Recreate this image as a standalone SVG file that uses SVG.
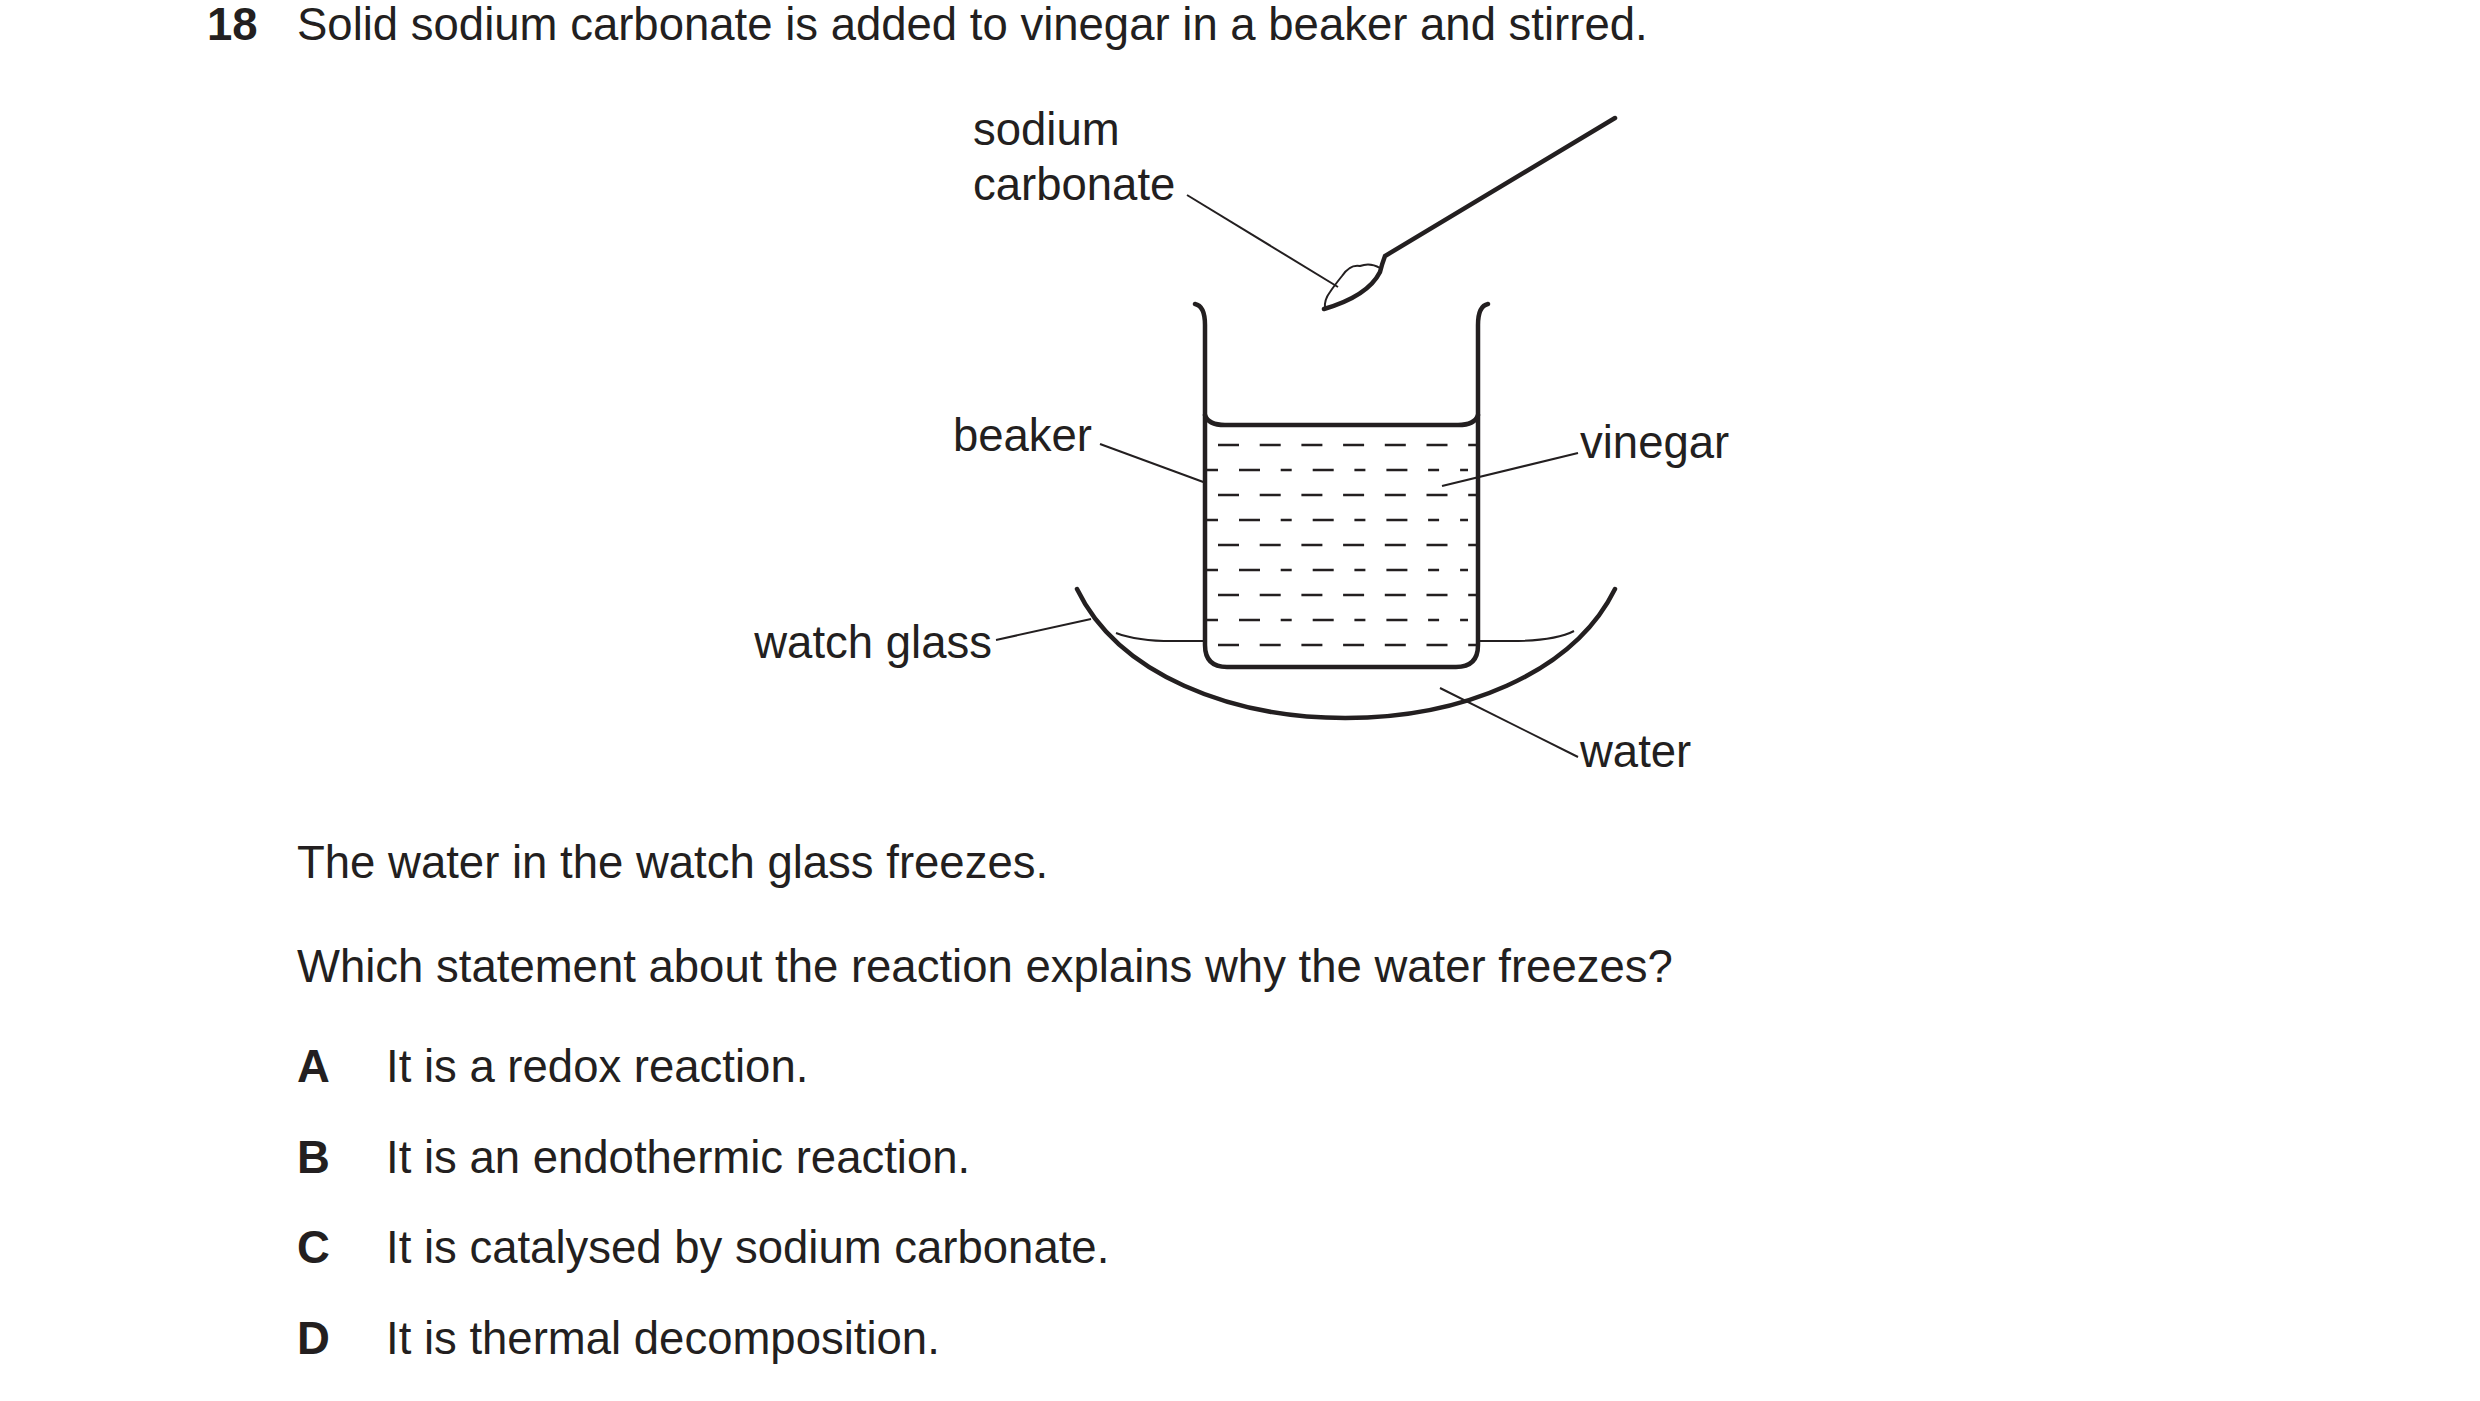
<svg xmlns="http://www.w3.org/2000/svg" width="2480" height="1401" viewBox="0 0 2480 1401">
<style>
text{font-family:"Liberation Sans",Arial,sans-serif;font-size:45.5px;fill:#231f20}
.b{font-weight:bold}
.thick{fill:none;stroke:#231f20;stroke-width:4.5;stroke-linecap:round}
.thin{fill:none;stroke:#231f20;stroke-width:2}
.dash{stroke:#231f20;stroke-width:2.5}
</style>
<rect width="2480" height="1401" fill="#fff"/>
<text class="b" x="207" y="40">18</text>
<text x="297" y="40">Solid sodium carbonate is added to vinegar in a beaker and stirred.</text>
<g id="beaker">
<path class="thick" d="M1195,304 Q1205,306 1205,325 L1205,645 Q1205,667 1227,667 L1456,667 Q1478,667 1478,645 L1478,325 Q1478,306 1488,304"/>
<path class="thick" d="M1205,415 Q1208,425 1225,425 L1458,425 Q1475,425 1478,415"/>
</g>
<g id="vinegar">
<path class="dash" stroke-dasharray="21 20.7" d="M1218,445H1478M1218,495H1478M1218,545H1478M1218,595H1478M1218,645H1478"/>
<path class="dash" stroke-dasharray="11 21 21 20.7" d="M1207,470H1468M1207,520H1468M1207,570H1468M1207,620H1468"/>
</g>
<g id="watchglass">
<path class="thick" d="M1077,589 C1160,761 1530,761 1615,589"/>
<path class="thin" d="M1116,633 Q1140,642 1180,641 L1205,641 M1478,641 L1510,641 Q1555,641 1574,631"/>
</g>
<g id="spoon" transform="translate(-10,0)">
<path class="thick" d="M1625,118 L1395,256 Q1392,264 1390,272 Q1378,296 1334,309"/>
<path class="thin" d="M1390,268 Q1380,262 1370,266 Q1360,264 1352,276 Q1344,286 1340,292 Q1334,300 1335,308"/>
</g>
<g id="connectors">
<path class="thin" d="M1187,195 L1338,287"/>
<path class="thin" d="M1100,444 L1206,483"/>
<path class="thin" d="M1578,453 L1442,486"/>
<path class="thin" d="M996,640 L1091,619"/>
<path class="thin" d="M1578,757 L1440,688"/>
</g>
<g id="labels">
<text x="973" y="145">sodium</text>
<text x="973" y="200">carbonate</text>
<text x="1092" y="451" text-anchor="end">beaker</text>
<text x="1580" y="458">vinegar</text>
<text x="992" y="658" text-anchor="end">watch glass</text>
<text x="1580" y="767">water</text>
</g>
<text x="297" y="878">The water in the watch glass freezes.</text>
<text x="297" y="982">Which statement about the reaction explains why the water freezes?</text>
<text class="b" x="297" y="1082">A</text><text x="386" y="1082">It is a redox reaction.</text>
<text class="b" x="297" y="1173">B</text><text x="386" y="1173">It is an endothermic reaction.</text>
<text class="b" x="297" y="1263">C</text><text x="386" y="1263">It is catalysed by sodium carbonate.</text>
<text class="b" x="297" y="1354">D</text><text x="386" y="1354">It is thermal decomposition.</text>
</svg>
